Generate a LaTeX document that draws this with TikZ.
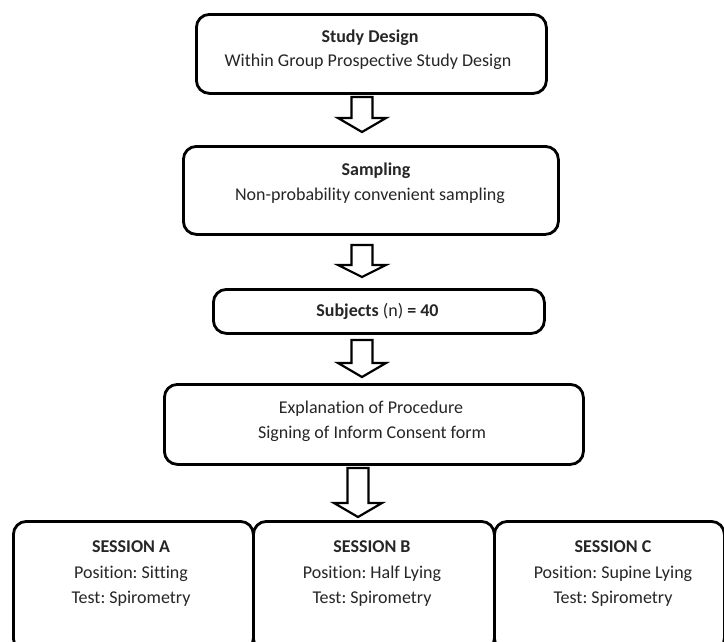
\documentclass[tikz,border=0pt]{standalone}
\usepackage{fontspec}
\setmainfont[Ligatures=NoCommon]{Carlito}
\frenchspacing
\usetikzlibrary{calc}
\tikzset{
  box/.style={draw=black, line width=2.8pt, rounded corners=13pt, fill=white, inner sep=0pt, anchor=north west},
  txt/.style={anchor=base, inner sep=0pt, font=\fontsize{18}{22}\selectfont\frenchspacing, text=black!85},
  blk/.style={draw=black, line width=2.2pt, fill=white, line join=miter},
}
\newcommand\barrow[3]{\draw[blk] let \p1=(#1), \p2=(#2) in
  (\x2-10.5pt,\y1) -- (\x2-10.5pt,\y2+#3pt) -- (\x2-24pt,\y2+#3pt) -- (\x2,\y2)
  -- (\x2+24pt,\y2+#3pt) -- (\x2+10.5pt,\y2+#3pt) -- (\x2+10.5pt,\y1) -- cycle;}
\begin{document}
\begin{tikzpicture}[x=1pt,y=-1pt]
\path[use as bounding box] (0,0) rectangle (724,641);
\clip (0,0) rectangle (724,641);
\fill[white] (0,0) rectangle (724,641);
% boxes
\node[box, minimum width=350pt, minimum height=79pt] (b1) at (195,13) {};
\node[box, minimum width=375pt, minimum height=88pt] (b2) at (182,145) {};
\node[box, minimum width=331pt, minimum height=44pt] (b3) at (212,288) {};
\node[box, minimum width=419pt, minimum height=80pt] (b4) at (163,383) {};
\node[box, minimum width=240pt, minimum height=130pt] (sa) at (12,520) {};
\node[box, minimum width=241pt, minimum height=130pt] (sb) at (252,520) {};
\node[box, minimum width=230pt, minimum height=130pt] (sc) at (493,520) {};
% texts
\node[txt] (t1a) at (370,42) {\textbf{Study Design}};
\node[txt] (t1b) at (368,66.5) {Within Group Prospective Study Design};
\node[txt] (t2a) at (376,175) {\textbf{Sampling}};
\node[txt] (t2b) at (370,200) {Non-probability convenient sampling};
\node[txt] (t3) at (377.5,316.5) {\textbf{Subjects} (n) \textbf{= 40}};
\node[txt] (t4a) at (371,413.3) {Explanation of Procedure};
\node[txt] (t4b) at (372,438.5) {Signing of Inform Consent form};
\node[txt] (tsa1) at (131,552.7) {\textbf{SESSION A}};
\node[txt] (tsa2) at (131,578) {Position: Sitting};
\node[txt] (tsa3) at (131,603) {Test: Spirometry};
\node[txt] (tsb1) at (372,552.7) {\textbf{SESSION B}};
\node[txt] (tsb2) at (372,578) {Position: Half Lying};
\node[txt] (tsb3) at (372,603) {Test: Spirometry};
\node[txt] (tsc1) at (613,552.7) {\textbf{SESSION C}};
\node[txt] (tsc2) at (613,578) {Position: Supine Lying};
\node[txt] (tsc3) at (613,603) {Test: Spirometry};
% block arrows
\coordinate (a1s) at (362,97);  \coordinate (a1t) at (362,132);
\coordinate (a2s) at (362,245); \coordinate (a2t) at (362,277);
\coordinate (a3s) at (362,340); \coordinate (a3t) at (362,377);
\coordinate (a4s) at (358,468); \coordinate (a4t) at (358,517);
\barrow{a1s}{a1t}{14}
\barrow{a2s}{a2t}{12}
\barrow{a3s}{a3t}{14}
\barrow{a4s}{a4t}{14}
\end{tikzpicture}
\end{document}
